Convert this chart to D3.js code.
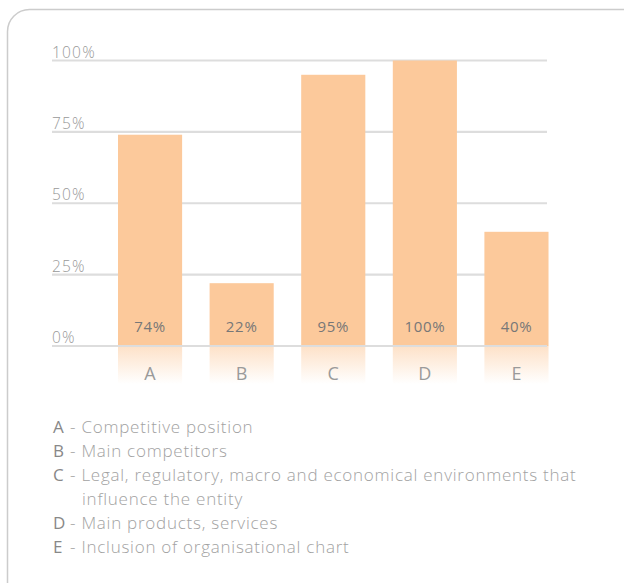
<!DOCTYPE html>
<html>
<head>
<meta charset="utf-8">
<script src="https://cdn.jsdelivr.net/npm/d3@7/dist/d3.min.js"></script>
<style>
  html, body { margin: 0; padding: 0; background: #fff; }
  svg { display: block; font-family: "Open Sans", sans-serif; }
</style>
</head>
<body>
<svg id="chart" width="624" height="583"></svg>
<script>
// Share of entities disclosing each item
const categories = ["A", "B", "C", "D", "E"];
const values = [74, 22, 95, 100, 40];
const yTicks = [0, 25, 50, 75, 100];
const legendLetters = ["A", "B", "C", "D", "E"];
const legendLines = [
  ["Competitive position"],
  ["Main competitors"],
  ["Legal, regulatory, macro and economical environments that", "influence the entity"],
  ["Main products, services"],
  ["Inclusion of organisational chart"]
];

const svg = d3.select("#chart");

// Rounded frame
svg.append("rect")
  .attr("x", 7.5).attr("y", 9.5)
  .attr("width", 640).attr("height", 600)
  .attr("rx", 22).attr("ry", 22)
  .attr("fill", "none")
  .attr("stroke", "#cccccc")
  .attr("stroke-width", 1.5);

const x = d3.scaleBand()
  .domain(categories)
  .range([104.26, 562.26])
  .paddingInner(0.3)
  .paddingOuter(0.15);

const y = d3.scaleLinear().domain([0, 100]).range([346, 60.5]);

const gridX0 = 52, gridX1 = 547;

// Gridlines and their labels
const grid = svg.append("g");
grid.selectAll("line")
  .data(yTicks.filter(d => d > 0))
  .join("line")
  .attr("x1", gridX0).attr("x2", gridX1)
  .attr("y1", d => y(d)).attr("y2", d => y(d))
  .attr("stroke", "#dddddd")
  .attr("stroke-width", 2.2);

grid.selectAll("text")
  .data(yTicks)
  .join("text")
  .attr("x", gridX0)
  .attr("y", d => y(d) - 3)
  .attr("fill", "#999999")
  .attr("font-size", 15.5)
  .attr("font-weight", 300)
  .attr("letter-spacing", 1.2)
  .text(d => d + "%");

// Fade below the baseline
const defs = svg.append("defs");
const grad = defs.append("linearGradient")
  .attr("id", "fade")
  .attr("x1", 0).attr("y1", 0).attr("x2", 0).attr("y2", 1);
grad.append("stop").attr("offset", "0%").attr("stop-color", "#fcc99b").attr("stop-opacity", 0.55);
grad.append("stop").attr("offset", "100%").attr("stop-color", "#fcc99b").attr("stop-opacity", 0);

svg.append("g").selectAll("rect")
  .data(categories)
  .join("rect")
  .attr("x", d => x(d))
  .attr("y", y(0))
  .attr("width", x.bandwidth())
  .attr("height", 38)
  .attr("fill", "url(#fade)");

// Bars
svg.append("g").selectAll("rect")
  .data(values)
  .join("rect")
  .attr("x", (d, i) => x(categories[i]))
  .attr("y", d => y(d))
  .attr("width", x.bandwidth())
  .attr("height", d => y(0) - y(d))
  .attr("fill", "#fcc99b");

// Baseline over the bars
svg.append("line")
  .attr("x1", gridX0).attr("x2", gridX1)
  .attr("y1", y(0)).attr("y2", y(0))
  .attr("stroke", "#dddddd")
  .attr("stroke-width", 2.2);

// Value labels inside bars
svg.append("g").selectAll("text")
  .data(values)
  .join("text")
  .attr("x", (d, i) => x(categories[i]) + x.bandwidth() / 2)
  .attr("y", y(0) - 14)
  .attr("text-anchor", "middle")
  .attr("fill", "#777777")
  .attr("font-size", 15)
  .attr("letter-spacing", 0.7)
  .text(d => d + "%");

// Category letters
svg.append("g").selectAll("text")
  .data(categories)
  .join("text")
  .attr("x", d => x(d) + x.bandwidth() / 2)
  .attr("y", 380)
  .attr("text-anchor", "middle")
  .attr("fill", "#9a9a9a")
  .attr("font-size", 18)
  .attr("font-weight", 400)
  .text(d => d);

// Legend
const legend = svg.append("g").attr("font-size", 17).attr("letter-spacing", 0.75);
let row = 0;
legendLetters.forEach((letter, i) => {
  legendLines[i].forEach((line, j) => {
    const yy = 433 + row * 24;
    if (j === 0) {
      legend.append("text")
        .attr("x", 53).attr("y", yy)
        .attr("fill", "#888888")
        .attr("font-weight", 400)
        .text(letter);
      legend.append("text")
        .attr("x", 70).attr("y", yy)
        .attr("fill", "#a2a2a2")
        .attr("font-weight", 300)
        .text("- " + line);
    } else {
      legend.append("text")
        .attr("x", 82).attr("y", yy)
        .attr("fill", "#a2a2a2")
        .attr("font-weight", 300)
        .text(line);
    }
    row++;
  });
});
</script>
</body>
</html>
